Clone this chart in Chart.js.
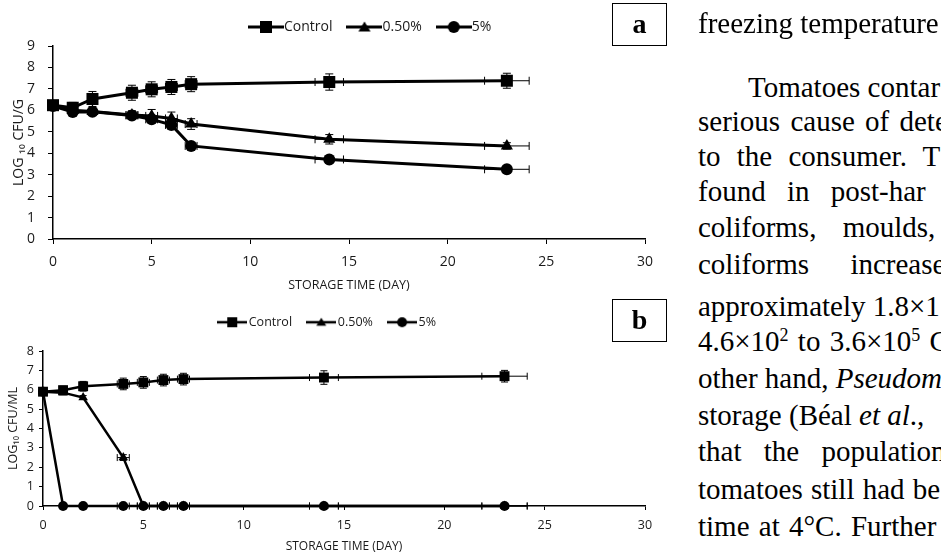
<!DOCTYPE html>
<html>
<head>
<meta charset="utf-8">
<script src="https://cdn.jsdelivr.net/npm/chart.js@4.4.1/dist/chart.umd.min.js"></script>
<style>
  html, body { margin: 0; padding: 0; background: #fff; }
  body { width: 941px; height: 557px; position: relative; overflow: hidden; }
  canvas { position: absolute; left: 0; }
  #chartA { top: 0; }
  #chartB { top: 290px; }
  .tag { position: absolute; left: 612px; width: 53px; height: 41px; border: 1px solid #000;
         font: bold 28px 'Liberation Serif', serif; text-align: center; line-height: 40px; }
  .txt { position: absolute; left: 698px; font: 29px 'Liberation Serif', serif; white-space: pre;
         line-height: 29px; color: #000; }
  .txt sup { font-size: 0.62em; line-height: 0; vertical-align: 0.55em; }
</style>
</head>
<body>
<canvas id="chartA" width="680" height="300"></canvas>
<canvas id="chartB" width="680" height="267"></canvas>

<div class="tag" style="top:3px">a</div>
<div class="tag" style="top:299px">b</div>

<div class="txt" style="top:9px">freezing temperature</div>
<div class="txt" style="top:73px;left:748px">Tomatoes contar</div>
<div class="txt" style="top:107px;word-spacing:3px">serious cause of dete</div>
<div class="txt" style="top:142px;word-spacing:9px">to the consumer. T</div>
<div class="txt" style="top:177px;word-spacing:14px">found in post-har</div>
<div class="txt" style="top:213px;word-spacing:19px">coliforms, moulds,</div>
<div class="txt" style="top:250px;word-spacing:34px">coliforms increase</div>
<div class="txt" style="top:292px">approximately 1.8×1</div>
<div class="txt" style="top:327px;word-spacing:2px">4.6×10<sup>2</sup> to 3.6×10<sup>5</sup> C</div>
<div class="txt" style="top:364px">other hand, <i>Pseudom</i></div>
<div class="txt" style="top:401px">storage (Béal <i>et al</i>.,</div>
<div class="txt" style="top:437px;word-spacing:15px">that the population</div>
<div class="txt" style="top:475px;word-spacing:1px">tomatoes still had be</div>
<div class="txt" style="top:512px;word-spacing:2px">time at 4°C. Further</div>

<script>
// storage days (x values, shared by both panels)
const days = [0, 1, 2, 4, 5, 6, 7, 14, 23];
const seriesNames = ['Control', '0.50%', '5%'];

// panel a : LOG10 CFU/G
const aControl = [6.24, 6.12, 6.53, 6.82, 6.98, 7.09, 7.22, 7.32, 7.38];
const aLow     = [6.2, 6.0, 5.95, 5.78, 5.74, 5.62, 5.36, 4.65, 4.34];
const aHigh    = [6.2, 5.92, 5.93, 5.76, 5.58, 5.32, 4.34, 3.71, 3.25];
const aControlErr = [0.2, 0.25, 0.35, 0.35, 0.35, 0.35, 0.35, 0.38, 0.35];
const aLowErr     = [0.15, 0.15, 0.15, 0.2, 0.3, 0.3, 0.25, 0.22, 0.15];
const aHighErr    = [0.15, 0.15, 0.15, 0.15, 0.15, 0.15, 0.1, 0.1, 0.1];

// panel b : LOG10 CFU/ML
const bControl = [5.9, 5.98, 6.18, 6.3, 6.38, 6.5, 6.55, 6.63, 6.7];
const bLow     = [5.9, 5.85, 5.6, 2.5, 0, 0, 0, 0, 0];
const bHigh    = [5.9, 0, 0, 0, 0, 0, 0, 0, 0];
const bControlErr = [0.2, 0.2, 0.25, 0.3, 0.3, 0.3, 0.3, 0.35, 0.3];
const bLowErr     = [0.1, 0.1, 0.1, 0.15, 0, 0, 0, 0, 0];
const bHighErr    = [0, 0, 0, 0, 0, 0, 0, 0, 0];

// horizontal error (days)
const dayErr = [0, 0, 0, 0.3, 0.3, 0.3, 0.3, 0.72, 1.13];

const xTicks = [0, 5, 10, 15, 20, 25, 30];

Chart.defaults.font.family = "'Open Sans', sans-serif";
Chart.defaults.color = '#1a1a1a';

// small legend glyph: line with the marker in its middle
function makeIcon(shape, w, h, lineW, size) {
   const c = document.createElement('canvas');
   c.width = w;
   c.height = h;
   const g = c.getContext('2d');
   g.fillStyle = '#000';
   g.strokeStyle = '#000';
   g.lineWidth = lineW;
   g.beginPath();
   g.moveTo(0, h / 2);
   g.lineTo(w, h / 2);
   g.stroke();
   const cx = w / 2, cy = h / 2;
   g.beginPath();
   if (shape === 'rect') {
      g.rect(cx - size / 2, cy - size / 2, size, size);
   } else if (shape === 'circle') {
      g.arc(cx, cy, size / 2, 0, Math.PI * 2);
   } else {
      g.moveTo(cx, cy - size * 0.5);
      g.lineTo(cx + size * 0.55, cy + size * 0.4);
      g.lineTo(cx - size * 0.55, cy + size * 0.4);
      g.closePath();
   }
   g.fill();
   return c;
}

// put the legend where the figure has it
const legendSpot = {
   id: 'legendSpot',
   afterLayout(chart, args, opts) {
      const lg = chart.legend;
      if (!lg) return;
      const h = lg.bottom - lg.top;
      lg.left = opts.x;
      lg.right = opts.x + 600;
      lg.top = opts.y;
      lg.bottom = opts.y + h;
   }
};

// error bars read from dataset.yErr / dataset.xErr
const errorBars = {
   id: 'errorBars',
   beforeDatasetsDraw(chart, args, opts) {
      const { ctx } = chart;
      const xs = chart.scales.x, ys = chart.scales.y;
      const cap = opts.cap || 4;
      ctx.save();
      ctx.strokeStyle = '#000';
      ctx.lineWidth = 1;
      chart.data.datasets.forEach((ds) => {
         ds.data.forEach((p, i) => {
            if (p.y === null) return;
            const px = xs.getPixelForValue(p.x);
            const py = ys.getPixelForValue(p.y);
            const ey = ds.yErr ? ds.yErr[i] : 0;
            const ex = ds.xErr ? ds.xErr[i] : 0;
            ctx.beginPath();
            if (ey) {
               const t = ys.getPixelForValue(p.y + ey);
               const b = ys.getPixelForValue(Math.max(p.y - ey, 0));
               ctx.moveTo(px, t); ctx.lineTo(px, b);
               ctx.moveTo(px - cap, t); ctx.lineTo(px + cap, t);
               ctx.moveTo(px - cap, b); ctx.lineTo(px + cap, b);
            }
            if (ex) {
               const l = xs.getPixelForValue(p.x - ex);
               const r = xs.getPixelForValue(p.x + ex);
               ctx.moveTo(l, py); ctx.lineTo(r, py);
               ctx.moveTo(l, py - cap); ctx.lineTo(l, py + cap);
               ctx.moveTo(r, py - cap); ctx.lineTo(r, py + cap);
            }
            ctx.stroke();
         });
      });
      ctx.restore();
   }
};

function points(values) {
   return days.map((d, i) => ({ x: d, y: values[i] }));
}

function makeDataset(label, values, yErr, style, radius, lineW, order) {
   return {
      label: label,
      data: points(values),
      yErr: yErr,
      xErr: dayErr,
      borderColor: '#000',
      backgroundColor: '#000',
      borderWidth: lineW,
      pointStyle: style,
      pointRadius: radius,
      pointBorderWidth: 0,
      pointBackgroundColor: '#000',
      tension: 0,
      clip: false,
      order: order
   };
}

function makeOptions(p) {
   return {
      responsive: false,
      animation: false,
      devicePixelRatio: 1,
      layout: { padding: { top: p.padTop, right: 35, left: 0, bottom: 0 } },
      plugins: {
         tooltip: { enabled: false },
         legend: {
            align: 'start',
            labels: {
               usePointStyle: true,
               pointStyleWidth: p.boxW,
               padding: p.legPad,
               color: '#1a1a1a',
               font: { size: p.legFont },
               sort: (a, b) => a.datasetIndex - b.datasetIndex,
               generateLabels: (chart) => Chart.defaults.plugins.legend.labels.generateLabels(chart)
                  .map((item) => Object.assign(item, { pointStyle: p.icons[item.datasetIndex] }))
            }
         },
         legendSpot: { x: p.legX, y: p.legY },
         errorBars: { cap: p.cap }
      },
      scales: {
         x: {
            type: 'linear',
            min: 0,
            max: 30,
            afterBuildTicks: (s) => { s.ticks = xTicks.map((v) => ({ value: v })); },
            afterFit: (s) => { s.height = p.xH; },
            border: { color: '#000', width: 1.5 },
            grid: { drawOnChartArea: false, color: '#000', tickColor: '#000', tickLength: p.tick },
            ticks: { padding: p.xPad, font: { size: p.tickFont } },
            title: { display: true, text: 'STORAGE TIME (DAY)', font: { size: p.titleFont },
                     padding: { top: 0, bottom: p.xTitlePad } }
         },
         y: {
            min: 0,
            max: p.yMax,
            afterBuildTicks: (s) => { s.ticks = p.yTicks.map((v) => ({ value: v })); },
            afterFit: (s) => { s.width = p.yW; },
            border: { color: '#000', width: 1.5 },
            grid: { drawOnChartArea: false, color: '#000', tickColor: '#000', tickLength: p.tick },
            ticks: { padding: p.yPad, font: { size: p.tickFont } },
            title: { display: true, text: p.yTitle, font: { size: p.yTitleFont },
                     padding: { top: p.yTitlePad, bottom: 0 } }
         }
      }
   };
}

const iconsA = [makeIcon('rect', 36, 16, 3, 12), makeIcon('triangle', 36, 16, 3, 11), makeIcon('circle', 36, 16, 3, 12)];
const iconsB = [makeIcon('rect', 30, 14, 2.5, 10), makeIcon('triangle', 30, 14, 2.5, 9), makeIcon('circle', 30, 14, 2.5, 10)];

new Chart(document.getElementById('chartA'), {
   type: 'line',
   data: {
      datasets: [
         makeDataset(seriesNames[0], aControl, aControlErr, 'rect', 8.5, 3, 0),
         makeDataset(seriesNames[1], aLow, aLowErr, 'triangle', 7, 3, 2),
         makeDataset(seriesNames[2], aHigh, aHighErr, 'circle', 6, 3, 1)
      ]
   },
   options: makeOptions({
      padTop: 1, boxW: 22, legPad: 21, legFont: 14, icons: iconsA, legX: 234, legY: -1,
      cap: 4, xH: 61, tick: 5, xPad: 9.6, tickFont: 14, titleFont: 12.5, xTitlePad: 7.5,
      yMax: 9, yTicks: [0, 1, 2, 3, 4, 5, 6, 7, 8, 9], yW: 53, yPad: 13,
      yTitle: 'LOG ₁₀ CFU/G', yTitleFont: 14, yTitlePad: 10.5
   }),
   plugins: [legendSpot, errorBars]
});

new Chart(document.getElementById('chartB'), {
   type: 'line',
   data: {
      datasets: [
         makeDataset(seriesNames[0], bControl, bControlErr, 'rect', 7, 2.5, 0),
         makeDataset(seriesNames[1], bLow, bLowErr, 'triangle', 5.5, 2.5, 2),
         makeDataset(seriesNames[2], bHigh, bHighErr, 'circle', 5, 2.5, 1)
      ]
   },
   options: makeOptions({
      padTop: 19.5, boxW: 20.5, legPad: 19, legFont: 12.5, icons: iconsB, legX: 203, legY: 7,
      cap: 3.5, xH: 51, tick: 4, xPad: 7.5, tickFont: 12.5, titleFont: 12, xTitlePad: 3,
      yMax: 8, yTicks: [0, 1, 2, 3, 4, 5, 6, 7, 8], yW: 43, yPad: 5,
      yTitle: 'LOG₁₀ CFU/ML', yTitleFont: 12.5, yTitlePad: 5.5
   }),
   plugins: [legendSpot, errorBars]
});
</script>
</body>
</html>
